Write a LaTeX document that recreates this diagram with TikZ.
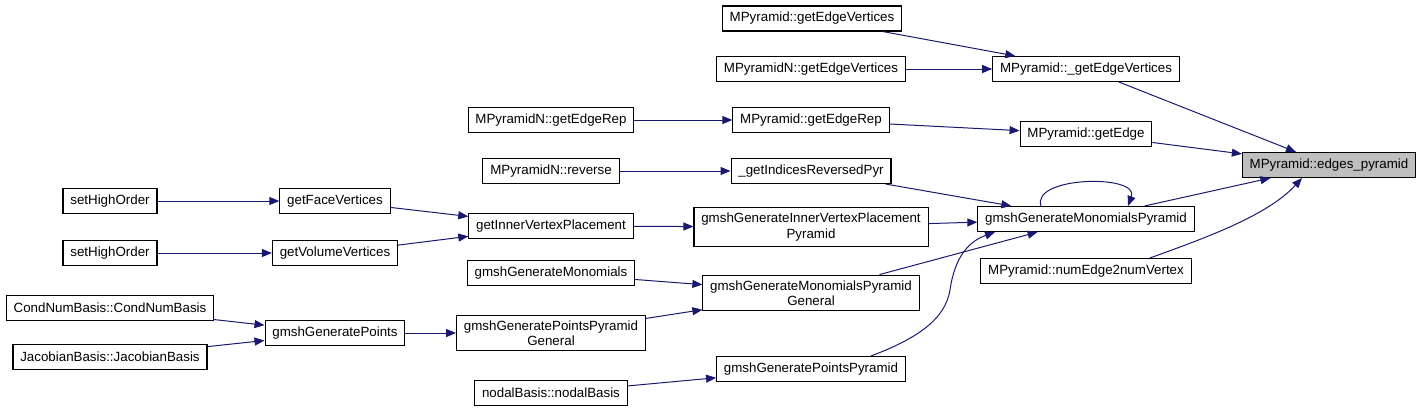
\documentclass[tikz,border=0pt]{standalone}
\usepackage{fontspec}
\setmainfont{Liberation Sans}
\usetikzlibrary{arrows.meta,calc}
\definecolor{midnightblue}{HTML}{191970}
\definecolor{curfill}{HTML}{BFBFBF}

\begin{document}
\begin{tikzpicture}[
          x=0.75pt, y=-0.75pt,
          every node/.style={rectangle, draw, fill=white, line width=0.8pt,
            font=\fontsize{10}{11.5}\selectfont, inner xsep=5.5pt, inner ysep=2pt,
            minimum height=18.75pt, align=center},
          current/.style={fill=curfill},
          twoline/.style={inner ysep=4pt},
          call/.style={draw=midnightblue, line width=0.75pt, ->},
          >={Triangle[length=7.5pt, width=6pt]}
        ]
        \useasboundingbox (0,0) rectangle (1421,412);
        % callees on the right
        \node[current] (ep) at (1329,165) {MPyramid::edges\_pyramid};
        \node (pgev) at (1086,69) {MPyramid::\_getEdgeVertices};
        \node (pge) at (1086,134) {MPyramid::getEdge};
        \node (gmp) at (1086,219) {gmshGenerateMonomialsPyramid};
        \node (nenv) at (1086,271) {MPyramid::numEdge2numVertex};
        % column 3
        \node (gev) at (812,18.5) {MPyramid::getEdgeVertices};
        \node (ngev) at (811,69) {MPyramidN::getEdgeVertices};
        \node (pgr) at (811,120) {MPyramid::getEdgeRep};
        \node (gir) at (811,171) {\_getIndicesReversedPyr};
        \node[twoline] (ggivpp) at (811,227) {gmshGenerateInnerVertexPlacement\\Pyramid};
        \node[twoline] (ggmpg) at (811,293) {gmshGenerateMonomialsPyramid\\General};
        \node (ggpp) at (811,369) {gmshGeneratePointsPyramid};
        % column 2
        \node (ngr) at (551,120) {MPyramidN::getEdgeRep};
        \node (nrev) at (551,171) {MPyramidN::reverse};
        \node (givp) at (551,226) {getInnerVertexPlacement};
        \node (ggm) at (551,273) {gmshGenerateMonomials};
        \node[twoline] (ggppg) at (551,333) {gmshGeneratePointsPyramid\\General};
        \node (nb) at (551,393) {nodalBasis::nodalBasis};
        % column 1
        \node (gfv) at (335,201) {getFaceVertices};
        \node (gvv) at (335,253) {getVolumeVertices};
        \node (ggp) at (335,333) {gmshGeneratePoints};
        % column 0
        \node (sho1) at (110,201) {setHighOrder};
        \node (sho2) at (110,253) {setHighOrder};
        \node (cnb) at (110,308) {CondNumBasis::CondNumBasis};
        \node (jb) at (110,357) {JacobianBasis::JacobianBasis};

        % calls into edges_pyramid
        \draw[call] (pgev) -- (ep);
        \draw[call] (pge) -- (ep);
        \draw[call] (gmp) -- (ep);
        \draw[call] ($(nenv.north)+(64,0)$) .. controls +(55,-20) and +(-35,38) .. ($(ep.south)+(-27,0)$);
        % upper part
        \draw[call] (gev) -- (pgev);
        \draw[call] (ngev) -- (pgev);
        \draw[call] (ngr) -- (pgr);
        \draw[call] (pgr) -- (pge);
        \draw[call] (nrev) -- (gir);
        \draw[call] (gir) -- (gmp);
        % self call
        \draw[call] ($(gmp.north)+(-45,0)$) .. controls +(-10,-30) and +(12,-32) .. ($(gmp.north)+(42,0)$);
        % lower part
        \draw[call] (sho1) -- (gfv);
        \draw[call] (sho2) -- (gvv);
        \draw[call] (gfv) -- (givp);
        \draw[call] (gvv) -- (givp);
        \draw[call] (givp) -- (ggivpp);
        \draw[call] (ggivpp) -- (gmp);
        \draw[call] (ggm) -- (ggmpg);
        \draw[call] (ggmpg) -- (gmp);
        \draw[call] (cnb) -- (ggp);
        \draw[call] (jb) -- (ggp);
        \draw[call] (ggp) -- (ggppg);
        \draw[call] (ggppg) -- (ggmpg);
        \draw[call] (nb) -- (ggpp);
        \draw[call] ($(ggpp.north)+(60,0)$) .. controls +(45,-17) and +(-5,30) .. (950,290)
          .. controls +(5,-35) and +(-25,9) .. ($(gmp.south)+(-91,0)$);
      \end{tikzpicture}
\end{document}
